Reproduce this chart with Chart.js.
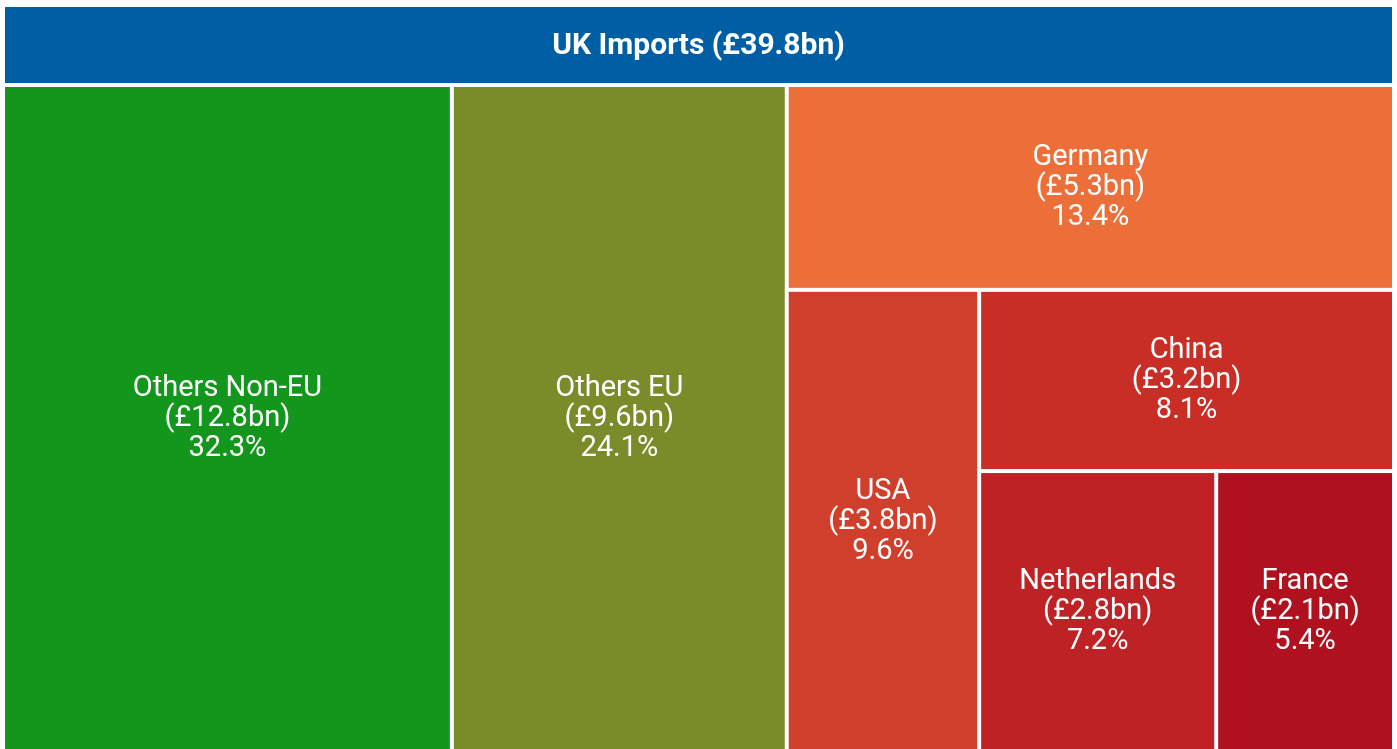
<!DOCTYPE html>
<html>
<head>
<meta charset="utf-8">
<title>UK Imports</title>
<script src="https://cdn.jsdelivr.net/npm/chart.js@4.4.1/dist/chart.umd.min.js"></script>
<style>
  html, body { margin: 0; padding: 0; background: #fff; overflow: hidden; }
  #wrap { width: 1397px; height: 755px; }
</style>
</head>
<body>
<div id="wrap"><canvas id="chart"></canvas></div>
<script>
// ---------- Data ----------
const rootLabel = "UK Imports";
const rootTotalBn = 39.8;
const countries = ["Others Non-EU", "Others EU", "Germany", "USA", "China", "Netherlands", "France"];
const valuesBn = [12.8, 9.6, 5.3, 3.8, 3.2, 2.8, 2.1];
const sharesPct = [32.3, 24.1, 13.4, 9.6, 8.1, 7.2, 5.4];

// colours per cell (same order as countries)
const cellColors = ["#12961b", "#7a8b29", "#ec6e38", "#cf3f2b", "#c82e26", "#be2224", "#af111f"];
const headerColor = "#005ea5";

const GAP = 4;          // white gap between cells (px)
const HEADER_H = 76;    // header band height (px)

// ---------- Layout: slice along the longer side, one item at a time ----------
function sliceLayout(rect, weights, area) {
  const out = [];
  let r = { ...rect };
  let rest = weights.reduce((a, b) => a + b, 0);
  weights.forEach((w, i) => {
    if (i === weights.length - 1) { out.push({ ...r }); return; }
    const f = w / rest;
    const wPx = (r.x1 - r.x0) * area.width;
    const hPx = (r.y1 - r.y0) * area.height;
    if (wPx >= hPx) {
      const xs = r.x0 + (r.x1 - r.x0) * f;
      out.push({ x0: r.x0, x1: xs, y0: r.y0, y1: r.y1 });
      r.x0 = xs;
    } else {
      const ys = r.y0 + (r.y1 - r.y0) * f;
      out.push({ x0: r.x0, x1: r.x1, y0: r.y0, y1: ys });
      r.y0 = ys;
    }
    rest -= w;
  });
  return out;
}

// ---------- Treemap drawing plugin ----------
const treemapPlugin = {
  id: "treemap",
  afterDatasetsDraw(chart) {
    const { ctx, chartArea } = chart;
    const xs = chart.scales.x, ys = chart.scales.y;
    ctx.save();

    // header (root node)
    const hx0 = xs.getPixelForValue(0), hx1 = xs.getPixelForValue(1);
    const hy0 = ys.getPixelForValue(0);
    ctx.fillStyle = headerColor;
    ctx.fillRect(hx0, hy0, hx1 - hx0 - GAP, HEADER_H);
    ctx.fillStyle = "#fff";
    ctx.font = "bold 30px Roboto";
    ctx.textAlign = "center";
    ctx.textBaseline = "middle";
    ctx.fillText(`${rootLabel} (£${rootTotalBn.toFixed(1)}bn)`, (hx0 + hx1 - GAP) / 2, hy0 + HEADER_H / 2 + 1);

    // children below header
    const topVal = ys.getValueForPixel(hy0 + HEADER_H + GAP);
    const rects = sliceLayout({ x0: 0, x1: 1, y0: topVal, y1: 1 }, sharesPct, chartArea);

    rects.forEach((r, i) => {
      const px0 = xs.getPixelForValue(r.x0), px1 = xs.getPixelForValue(r.x1);
      const py0 = ys.getPixelForValue(r.y0), py1 = ys.getPixelForValue(r.y1);
      const w = px1 - px0 - GAP, h = py1 - py0 - GAP;
      ctx.fillStyle = cellColors[i];
      ctx.fillRect(px0, py0, w, h);

      const lines = [countries[i], `(£${valuesBn[i].toFixed(1)}bn)`, `${sharesPct[i].toFixed(1)}%`];
      const lh = 30;
      const cx = px0 + w / 2, cy = py0 + h / 2;
      ctx.fillStyle = "#fff";
      ctx.font = "29px Roboto";
      lines.forEach((t, k) => ctx.fillText(t, cx, cy + (k - 1) * lh));
    });
    ctx.restore();
  }
};

new Chart(document.getElementById("chart"), {
  type: "scatter",
  data: { datasets: [{ data: [] }] },
  options: {
    responsive: true,
    maintainAspectRatio: false,
    animation: false,
    layout: { padding: { left: 5, right: 1, top: 7, bottom: 0 } },
    plugins: { legend: { display: false }, tooltip: { enabled: false } },
    scales: {
      x: { type: "linear", min: 0, max: 1, display: false },
      y: { type: "linear", min: 0, max: 1, reverse: true, display: false }
    }
  },
  plugins: [treemapPlugin]
});
</script>
</body>
</html>
